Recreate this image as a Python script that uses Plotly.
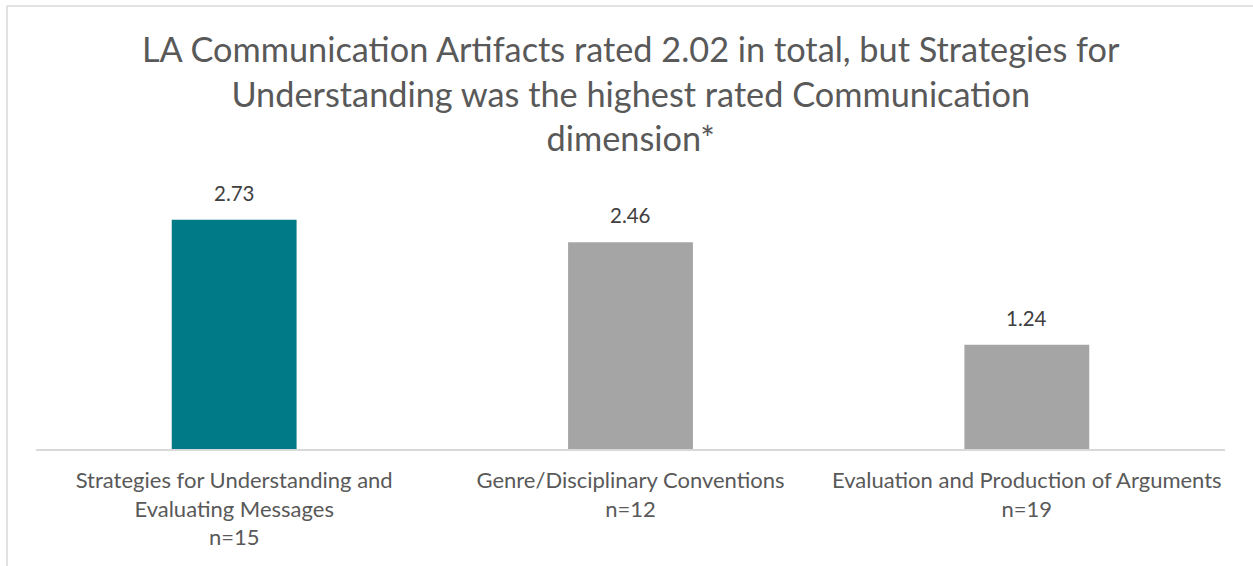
import plotly.graph_objects as go

categories = [
    "Strategies for Understanding and<br>Evaluating Messages<br>n=15",
    "Genre/Disciplinary Conventions<br>n=12",
    "Evaluation and Production of Arguments<br>n=19",
]
values = [2.73, 2.46, 1.24]
value_labels = ["2.73", "2.46", "1.24"]
bar_colors = ["#007A87", "#A5A5A6", "#A5A5A6"]

title_text = ("LA Communication Artifacts rated 2.02 in total, but Strategies for<br>"
              "Understanding was the highest rated Communication<br>dimension*")

FONT = "Lato"

fig = go.Figure(go.Bar(
    x=categories, y=values, marker=dict(color=bar_colors, line=dict(width=0)),
    hoverinfo="skip",
))

W, H = 1253, 566
ml, mr, mt, mb = 36, 28, 197, 117
pw = W - ml - mr
ph = H - mt - mb

def px_to_paper_x(px):
    return (px - ml) / pw

def px_to_paper_y(py):
    return (H - mb - py) / ph

annotations = [
    dict(x=c, y=v, xref="x", yref="y", text=t, showarrow=False,
         yanchor="bottom", yshift=13,
         font=dict(family=FONT, size=20.5, color="#404040"))
    for c, v, t in zip(categories, values, value_labels)
]
annotations.append(dict(
    x=0.5, y=px_to_paper_y(93), xref="paper", yref="paper",
    xanchor="center", yanchor="middle", showarrow=False, text=title_text,
    font=dict(family=FONT, size=34.3, color="#595959"),
))

fig.update_layout(
    width=W, height=H,
    margin=dict(l=ml, r=mr, t=mt, b=mb, pad=0),
    paper_bgcolor="white", plot_bgcolor="white",
    bargap=0.685,
    showlegend=False,
    annotations=annotations,
    xaxis=dict(showgrid=False, showline=True, linecolor="#D9D9D9", linewidth=1.5,
               ticks="", ticklabelstandoff=11,
               tickfont=dict(family=FONT, size=22, color="#595959")),
    yaxis=dict(range=[0, 3], visible=False, showgrid=False, zeroline=False),
    shapes=[
        dict(type="line", xref="paper", yref="paper",
             x0=px_to_paper_x(7), x1=px_to_paper_x(7),
             y0=px_to_paper_y(6), y1=px_to_paper_y(566),
             line=dict(color="#D9D9D9", width=1.5)),
        dict(type="line", xref="paper", yref="paper",
             x0=px_to_paper_x(7), x1=px_to_paper_x(1253),
             y0=px_to_paper_y(6), y1=px_to_paper_y(6),
             line=dict(color="#D9D9D9", width=1.5)),
    ],
)

fig.write_html("out.html", config={"displayModeBar": False},
               post_script="document.body.style.margin='0';")
